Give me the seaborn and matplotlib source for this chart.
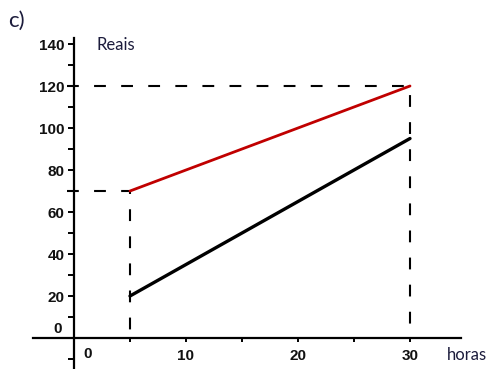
import matplotlib
matplotlib.use("Agg")
import matplotlib.pyplot as plt
import seaborn as sns
import numpy as np
from matplotlib.ticker import MultipleLocator, FixedLocator

# data
hours = [5, 30]
reais_red = [70, 120]
reais_black = [20, 95]
x_labels = [10, 20, 30]
y_labels = [20, 40, 60, 80, 100, 120, 140]

sns.set_style("white")
plt.rcParams["font.family"] = ["Liberation Sans", "DejaVu Sans"]
plt.rcParams["lines.scale_dashes"] = False

W, H = 496, 369
fig = plt.figure(figsize=(W / 100, H / 100), dpi=100)

# pixel mapping: x=0 at 74px, 11.2 px/unit ; y=0 at 338px, 2.1 px/unit
x0, sx = 74, 11.2
y0, sy = 338, 2.1
xmin, xmax = (0 - x0) / sx, (W - x0) / sx
ymin, ymax = -(H - y0) / sy, y0 / sy
ax = fig.add_axes([0, 0, 1, 1])
ax.set_xlim(xmin, xmax)
ax.set_ylim(ymin, ymax)

# axes through origin
for s in ["top", "right"]:
    ax.spines[s].set_visible(False)
ax.spines["left"].set_position(("data", 0))
ax.spines["bottom"].set_position(("data", 0))
ax.spines["left"].set_bounds(ymin, (y0 - 38) / sy)
ax.spines["bottom"].set_bounds((33 - x0) / sx, (461 - x0) / sx)
for s in ["left", "bottom"]:
    ax.spines[s].set_linewidth(1.6)
    ax.spines[s].set_color("black")

ax.xaxis.set_major_locator(FixedLocator(x_labels))
ax.xaxis.set_minor_locator(FixedLocator([5, 15, 25]))
ax.yaxis.set_major_locator(FixedLocator(y_labels))
ax.yaxis.set_minor_locator(FixedLocator([-10, 10, 30, 50, 70, 90, 110, 130]))
ax.set_xticklabels([str(v) for v in x_labels])
ax.set_yticklabels([str(v) for v in y_labels])
ax.tick_params(axis="both", which="both", direction="out", color="black",
               width=1.4, labelsize=11, left=True, bottom=True)
ax.tick_params(axis="y", which="major", length=4, pad=3)
ax.tick_params(axis="y", which="minor", length=4)
ax.tick_params(axis="x", which="major", length=3, pad=5)
ax.tick_params(axis="x", which="minor", length=3)
for lab in ax.get_xticklabels() + ax.get_yticklabels():
    lab.set_fontweight("bold")
    lab.set_color("#111111")

ax.text(-1.5, 4.5, "0", ha="center", va="center", fontsize=11,
        fontweight="bold", color="#111111")
ax.text(1.2, -7.5, "0", ha="center", va="center", fontsize=11,
        fontweight="bold", color="#111111")

# dashed guides
dash = dict(color="black", lw=1.5, linestyle=(0, (8.5, 11)), clip_on=False)
ax.plot([-0.6, hours[1], hours[1]], [reais_red[1], reais_red[1], 0], **dash)
ax.plot([-0.6, hours[0], hours[0]], [reais_red[0], reais_red[0], 0], **dash)

# lines
sns.lineplot(x=hours, y=reais_red, color="#c00000", lw=2.0, ax=ax)
sns.lineplot(x=hours, y=reais_black, color="black", lw=2.4, ax=ax)

# texts
txt_font = ["Lato", "DejaVu Sans"]
fig.text(96 / W, 1 - 45 / H, "Reais", ha="left", va="center", fontsize=12,
         color="#1c1c3c", family=txt_font)
fig.text(447 / W, 1 - 355 / H, "horas", ha="left", va="center", fontsize=12,
         color="#1c1c3c", family=txt_font)
fig.text(8 / W, 1 - 21 / H, "c)", ha="left", va="center", fontsize=16,
         color="#1c1c3c", family=txt_font)

fig.savefig("out.png", dpi=100)
